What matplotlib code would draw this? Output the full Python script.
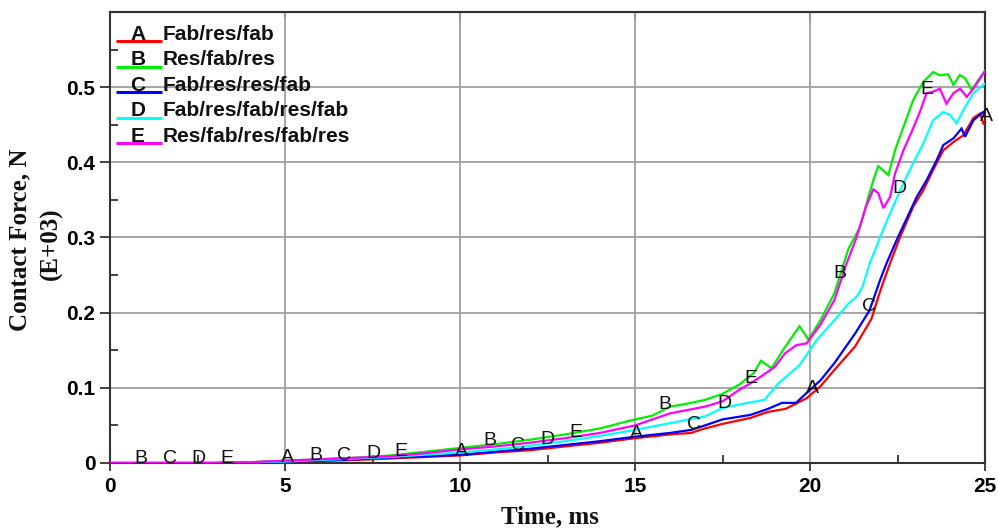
import numpy as np
import matplotlib
matplotlib.use("Agg")
import matplotlib.pyplot as plt
from matplotlib.patches import Rectangle

# ---------------- data ----------------
series_names = ["Fab/res/fab", "Res/fab/res", "Fab/res/res/fab",
                "Fab/res/fab/res/fab", "Res/fab/res/fab/res"]
series_letters = ["A", "B", "C", "D", "E"]
series_colors = ["#ff0000", "#00ee00", "#0000ff", "#00ffff", "#ff00ff"]

t_A = [0, 3, 4, 5, 6, 7, 8, 9, 10, 11, 12, 13, 14, 15, 16, 16.6, 17, 17.5, 18.3, 18.8,
       19.3, 19.9, 20.3, 20.7, 21.29, 21.76, 22.0, 22.29, 22.57, 22.95, 23.24, 23.52,
       23.81, 24.1, 24.38, 24.67, 24.86, 24.95, 25]
F_A = [0, 0, 0.001, 0.002, 0.003, 0.004, 0.006, 0.008, 0.010, 0.014, 0.017, 0.022, 0.027,
       0.033, 0.038, 0.040, 0.046, 0.052, 0.060, 0.068, 0.072, 0.086, 0.102, 0.124, 0.155,
       0.192, 0.228, 0.266, 0.300, 0.341, 0.363, 0.390, 0.416, 0.427, 0.436, 0.459, 0.465,
       0.452, 0.455]

t_B = [0, 3, 4, 5, 6, 7, 8, 9, 10, 11, 12, 13, 14, 15, 15.5, 16, 16.5, 17, 17.5, 18,
       18.4, 18.6, 18.9, 19.3, 19.7, 19.96, 20.3, 20.7, 20.86, 21.1, 21.43, 21.67, 21.81,
       21.95, 22.24, 22.43, 22.67, 22.95, 23.24, 23.52, 23.71, 23.95, 24.1, 24.28, 24.43,
       24.62, 24.8, 25]
F_B = [0, 0, 0.001, 0.003, 0.005, 0.007, 0.010, 0.015, 0.020, 0.025, 0.031, 0.038, 0.046,
       0.058, 0.063, 0.075, 0.079, 0.084, 0.092, 0.105, 0.120, 0.136, 0.126, 0.155, 0.182,
       0.164, 0.190, 0.226, 0.250, 0.285, 0.314, 0.354, 0.376, 0.395, 0.383, 0.416, 0.447,
       0.483, 0.507, 0.520, 0.516, 0.517, 0.503, 0.516, 0.512, 0.496, 0.509, 0.522]

t_C = [0, 3, 4, 5, 6, 7, 8, 9, 10, 11, 12, 13, 14, 15, 16, 16.6, 17, 17.5, 18.3, 18.8,
       19.2, 19.6, 19.9, 20.3, 20.7, 21.3, 21.7, 22.0, 22.19, 22.48, 22.7, 23.05, 23.33,
       23.62, 23.81, 24.1, 24.33, 24.43, 24.67, 24.95, 25]
F_C = [0, 0, 0.001, 0.002, 0.003, 0.005, 0.007, 0.009, 0.011, 0.015, 0.019, 0.024, 0.029,
       0.035, 0.040, 0.044, 0.050, 0.058, 0.064, 0.072, 0.080, 0.080, 0.093, 0.110, 0.133,
       0.173, 0.203, 0.243, 0.266, 0.297, 0.319, 0.354, 0.376, 0.403, 0.423, 0.432, 0.445,
       0.434, 0.456, 0.467, 0.468]

t_D = [0, 3, 4, 5, 6, 7, 8, 9, 10, 11, 12, 13, 14, 15, 16, 17, 17.5, 18, 18.7, 19.1,
       19.7, 20.2, 20.7, 21.1, 21.33, 21.5, 21.71, 21.86, 22.0, 22.29, 22.67, 22.95, 23.24,
       23.52, 23.81, 24.0, 24.19, 24.38, 24.67, 24.95, 25]
F_D = [0, 0, 0.001, 0.002, 0.004, 0.006, 0.008, 0.011, 0.014, 0.018, 0.023, 0.029, 0.036,
       0.044, 0.053, 0.062, 0.073, 0.078, 0.084, 0.106, 0.130, 0.164, 0.190, 0.212, 0.221,
       0.234, 0.266, 0.283, 0.300, 0.332, 0.372, 0.399, 0.425, 0.456, 0.467, 0.463, 0.452,
       0.469, 0.492, 0.503, 0.505]

t_E = [0, 3, 4, 5, 6, 7, 8, 9, 10, 11, 12, 13, 14, 15, 16, 17, 17.5, 18, 18.3, 18.6,
       19.0, 19.29, 19.62, 19.9, 20.3, 20.7, 21.05, 21.33, 21.6, 21.81, 21.95, 22.1, 22.29,
       22.43, 22.67, 22.9, 23.14, 23.33, 23.52, 23.71, 23.9, 24.1, 24.29, 24.48, 24.67,
       24.95, 25]
F_E = [0, 0, 0.001, 0.003, 0.005, 0.007, 0.009, 0.013, 0.018, 0.022, 0.027, 0.033, 0.040,
       0.050, 0.066, 0.075, 0.082, 0.098, 0.106, 0.115, 0.128, 0.146, 0.157, 0.159, 0.184,
       0.217, 0.266, 0.300, 0.341, 0.364, 0.359, 0.339, 0.354, 0.385, 0.416, 0.440, 0.467,
       0.492, 0.494, 0.498, 0.478, 0.492, 0.498, 0.487, 0.498, 0.518, 0.520]

series_t = [t_A, t_B, t_C, t_D, t_E]
series_F = [F_A, F_B, F_C, F_D, F_E]

label_times = [
    [5.06, 10.03, 15.05, 20.08, 25.03],
    [0.89, 5.89, 10.86, 15.86, 20.84],
    [1.71, 6.69, 11.66, 16.69, 21.69],
    [2.54, 7.54, 12.51, 17.55, 22.55],
    [3.34, 8.31, 13.31, 18.31, 23.33],
]

x_ticks = [0, 5, 10, 15, 20, 25]
x_ticklabels = ["0", "5", "10", "15", "20", "25"]
y_ticks = [0, 0.1, 0.2, 0.3, 0.4, 0.5]
y_ticklabels = ["0", "0.1", "0.2", "0.3", "0.4", "0.5"]

# ---------------- figure ----------------
W, H = 998, 529
fig = plt.figure(figsize=(W / 100, H / 100), dpi=100)
ax = fig.add_axes([110 / W, (H - 463) / H, 875 / W, 451 / H])

ax.set_xlim(0, 25)
ax.set_ylim(0, 0.6)

spine_col = "#333333"
for s in ax.spines.values():
    s.set_color(spine_col)
    s.set_linewidth(1.5)

ax.set_xticks(x_ticks)
ax.set_xticklabels(x_ticklabels)
ax.set_yticks(y_ticks)
ax.set_yticklabels(y_ticklabels)
ax.set_xticks(np.arange(2.5, 25, 5), minor=True)
ax.set_yticks(np.arange(0.05, 0.6, 0.1), minor=True)

for lab in ax.get_xticklabels() + ax.get_yticklabels():
    lab.set_fontfamily("Liberation Sans")
    lab.set_fontweight("bold")
    lab.set_fontsize(15)

ax.tick_params(axis="x", which="major", direction="out", length=6, width=1.3,
               color=spine_col, pad=4)
ax.tick_params(axis="y", which="major", direction="out", length=7, width=1.3,
               color=spine_col, pad=3.5)
ax.tick_params(which="minor", direction="in", length=5.5, width=1.3, color=spine_col)

ax.grid(True, which="major", color="#a0a0a0", linewidth=1.3)

sec_x = ax.secondary_xaxis("top")
sec_x.set_xticks(x_ticks)
sec_x.set_xticklabels([])
sec_x.tick_params(direction="in", length=6, width=1.3, color=spine_col)
sec_x.spines["top"].set_color(spine_col)
sec_x.spines["top"].set_linewidth(1.5)
sec_y = ax.secondary_yaxis("right")
sec_y.set_yticks(y_ticks)
sec_y.set_yticklabels([])
sec_y.tick_params(direction="in", length=6, width=1.3, color=spine_col)
sec_y.spines["right"].set_color(spine_col)
sec_y.spines["right"].set_linewidth(1.5)

# curves
for t, F, c in zip(series_t, series_F, series_colors):
    ax.plot(t, F, color=c, linewidth=1.6, zorder=3, solid_joinstyle="miter")

# curve letters
for t, F, letter, lts in zip(series_t, series_F, series_letters, label_times):
    for lt in lts:
        yv = np.interp(lt, t, F)
        ax.annotate(letter, (lt, yv), xytext=(0, 3), textcoords="offset points",
                    ha="center", va="center", fontsize=14,
                    family="Liberation Sans", color="#111111", zorder=5,
                    annotation_clip=False)

# legend (white box, manual entries)
ax.add_patch(Rectangle((0.012, 0.683), 0.270, 0.303, transform=ax.transAxes,
                       facecolor="white", edgecolor="none", zorder=1))
y0 = (463 - 41) / 451
dy = 25.6 / 451
for i, (name, letter, c) in enumerate(zip(series_names, series_letters, series_colors)):
    yy = y0 - i * dy
    ax.plot([0.0069, 0.0594], [yy, yy], transform=ax.transAxes, color=c,
            linewidth=2.2, zorder=6, clip_on=False, solid_capstyle="butt")
    ax.text(0.032, yy + 1.5 / 451, letter, transform=ax.transAxes, ha="center",
            va="baseline", fontsize=15, family="Liberation Sans", weight="bold",
            color="#111111", zorder=7)
    ax.text(0.0605, yy + 1.5 / 451, name, transform=ax.transAxes, ha="left",
            va="baseline", fontsize=15, family="Liberation Sans", weight="bold",
            color="#111111", zorder=7)

# axis labels
lab_font = dict(family="Liberation Serif", weight="bold", size=18, color="#111111")
fig.text(550 / W, 1 - 523 / H, "Time, ms", ha="center", va="baseline", **lab_font)
fig.text(20 / W, 1 - 240 / H, "Contact Force, N", ha="center", va="center",
         rotation=90, **lab_font)
fig.text(51 / W, 1 - 244 / H, "(E+03)", ha="center", va="center",
         rotation=90, **lab_font)

fig.savefig("out.png", dpi=100)
